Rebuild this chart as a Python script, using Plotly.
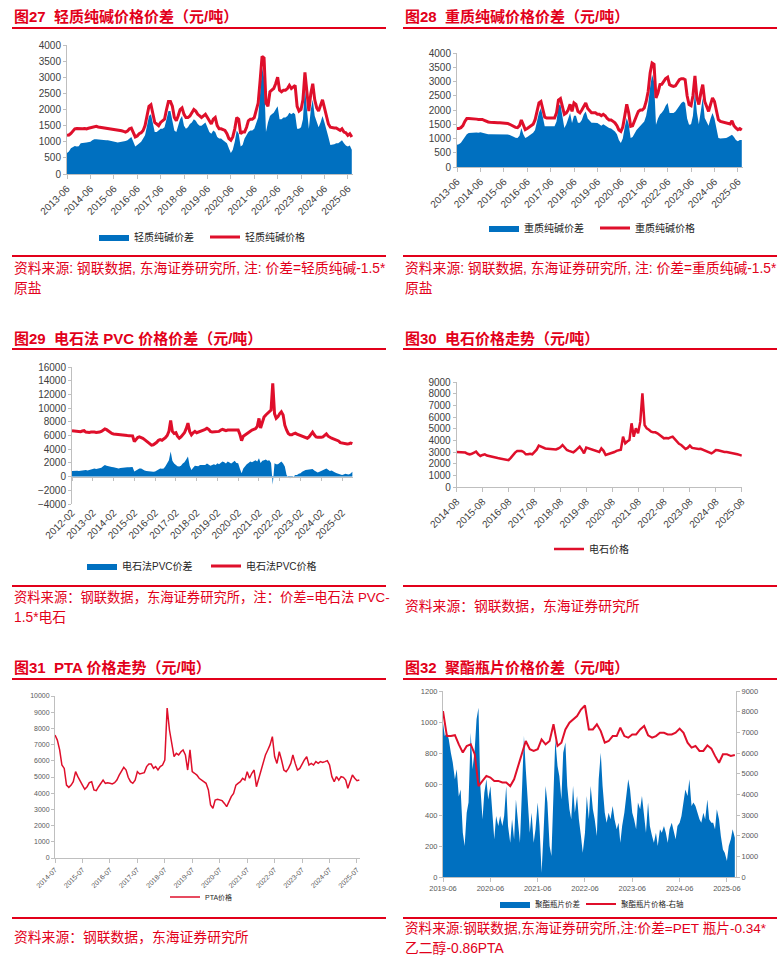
import pandas as pd
import plotly.graph_objects as go

W, H = 782, 960
RED = '#DF0F2B'
TXT_RED = '#E2001A'
BLUE = '#0070C0'
AX = '#BFBFBF'
FONT = 'Liberation Sans, Noto Sans CJK SC, sans-serif'

# ---------------- data ----------------
# 图27 light soda ash, monthly 2013-06 .. 2025-08
LIGHT_PRICE = [
    1200, 1210, 1260, 1350, 1400, 1410, 1400,
    1390, 1400, 1410, 1400, 1420, 1430, 1450, 1470, 1480, 1460, 1450, 1450,
    1440, 1440, 1430, 1420, 1400, 1390, 1380, 1370, 1360, 1340, 1320, 1300,
    1330, 1400, 1420, 1300, 1150, 1180, 1250, 1280, 1350, 1500, 1800, 2100,
    2150, 1900, 1600, 1550, 1500, 1600, 1650, 1700, 2000, 2250, 2250, 2100,
    1750, 1650, 1800, 2000, 2050, 1850, 1750, 1750, 1800, 1900, 2000, 1950,
    1850, 1800, 1750, 1800, 1850, 1750, 1650, 1550, 1700, 1750, 1500, 1400,
    1400, 1380, 1350, 1250, 1100, 1050, 1150, 1400, 1750, 1700, 1250, 1300,
    1300, 1450, 1650, 1700, 1700, 1750, 1950, 2200, 2900, 3650, 3600, 2200,
    2100, 2550, 2600, 2650, 2800, 3000, 2600, 2550, 2600, 2600, 2650, 2750,
    2650, 2700, 2750, 2100, 1950, 2000, 2300, 3150, 2600, 1950, 2500, 2800,
    2300, 2050, 1950, 2100, 2300, 2050, 1800, 1550, 1450, 1430, 1430, 1430,
    1400, 1350, 1400, 1300, 1280, 1200, 1250, 1150,
]
LIGHT_SPREAD = [
    650, 700, 800, 850, 870, 850, 860,
    950, 950, 970, 980, 1000, 1000, 1050, 1080, 1080, 1070, 1060, 1060,
    1060, 1050, 1050, 1030, 1020, 1000, 990, 980, 990, 1000, 1000, 1020,
    1050, 1100, 1150, 1000, 850, 900, 950, 1000, 1100, 1200, 1500, 1800,
    1850, 1500, 1300, 1300, 1350, 1400, 1400, 1450, 1700, 1950, 1950, 1600,
    1350, 1300, 1500, 1700, 1800, 1500, 1400, 1450, 1550, 1600, 1700, 1650,
    1550, 1500, 1500, 1550, 1600, 1450, 1300, 1250, 1350, 1300, 1150, 1100,
    1100, 1050, 1000, 950, 800, 650, 750, 1000, 1350, 1250, 850, 900,
    1100, 1200, 1300, 1350, 1350, 1400, 1550, 1750, 2500, 3300, 3000, 1300,
    1600, 1800, 1850, 1900, 2000, 2100, 1700, 1700, 1750, 1750, 1800, 1900,
    1850, 1900, 1850, 1400, 1400, 1450, 1700, 2700, 2000, 1400, 2000, 2300,
    1800, 1600, 1450, 1600, 1800, 1600, 1400, 1150, 900, 900, 920, 950,
    950, 1000, 1050, 950, 880, 850, 880, 750,
]

# 图28 heavy soda ash, monthly 2013-06 .. 2025-08
HEAVY_PRICE = [
    1350, 1350, 1380, 1450, 1600, 1700, 1700,
    1700, 1690, 1680, 1680, 1670, 1680, 1670, 1640, 1600, 1580, 1570, 1560,
    1560, 1550, 1550, 1550, 1550, 1550, 1540, 1530, 1500, 1460, 1420, 1390,
    1380, 1450, 1650, 1450, 1310, 1350, 1400, 1420, 1500, 1650, 2000, 2250,
    2300, 2000, 1750, 1720, 1720, 1720, 1720, 1720, 1900, 2350, 2400, 2100,
    1850, 1900, 2000, 2200, 1950, 2250, 2200, 1950, 1900, 2000, 2150, 2250,
    2050, 1950, 1900, 1900, 1900, 1850, 1850, 1800, 1850, 1800, 1700, 1650,
    1650, 1600, 1550, 1450, 1300, 1250, 1400, 1800, 2200, 1900, 1430, 1450,
    1600, 1800, 1950, 2000, 2000, 2070, 2300, 2650, 3300, 3650, 3600, 2420,
    2600, 2890, 2900, 3000, 3100, 3150, 2890, 2850, 2830, 2850, 2950, 3065,
    3100, 3100, 3065, 2500, 2190, 2150, 2500, 3200, 2420, 2190, 2600, 2890,
    2300, 2100, 1950, 2200, 2420, 2300, 2000, 1660, 1600, 1580, 1580, 1560,
    1530, 1510, 1625, 1450, 1370, 1310, 1350, 1300,
]
HEAVY_SPREAD = [
    780, 800, 850, 950, 1075, 1150, 1190,
    1200, 1200, 1210, 1210, 1200, 1215, 1200, 1180, 1160, 1150, 1150, 1150,
    1150, 1160, 1160, 1160, 1160, 1160, 1150, 1140, 1120, 1100, 1060, 1030,
    1020, 1100, 1370, 1150, 1020, 1050, 1100, 1150, 1200, 1300, 1600, 1900,
    2070, 1700, 1430, 1430, 1430, 1430, 1430, 1430, 1600, 2150, 2190, 1800,
    1370, 1500, 1700, 1895, 1545, 1800, 1800, 1550, 1550, 1650, 1850, 1950,
    1700, 1600, 1550, 1550, 1550, 1545, 1500, 1450, 1500, 1450, 1400, 1370,
    1350, 1300, 1250, 1150, 950, 840, 1000, 1400, 1720, 1500, 1020, 1050,
    1200, 1300, 1370, 1450, 1500, 1600, 1800, 2190, 2800, 3240, 3000, 1485,
    1700, 1840, 1900, 2000, 2150, 2245, 1895, 1900, 1895, 1950, 2050, 2190,
    2250, 2300, 2250, 1700, 1485, 1500, 1800, 2655, 1900, 1500, 2000, 2420,
    1720, 1600, 1450, 1700, 1895, 1700, 1400, 1020, 1000, 1000, 1000, 1020,
    1050, 1100, 1135, 1050, 950, 900, 950, 950,
]

# 图29 PVC (carbide route), monthly 2012-02 .. 2025-08
PVC_PRICE = [
    6700, 6650, 6600, 6550, 6500, 6550, 6650, 6700, 6500, 6450, 6450,
    6500, 6550, 6500, 6450, 6450, 6500, 6600, 6800, 6950, 6850, 6650, 6450,
    6300, 6230, 6200, 6150, 6100, 6050, 6000, 6000, 6000, 6000, 5980, 5950,
    5950, 5100, 5400, 5700, 5800, 5750, 5600, 5400, 5200, 5000, 4800, 4600,
    4650, 4800, 5000, 5300, 5400, 5300, 5450, 5700, 6000, 6600, 8200, 6600,
    6300, 6400, 5900, 5600, 5800, 6100, 6400, 7000, 7800, 6600, 6100, 6400,
    6600, 6400, 6500, 6700, 6800, 6800, 6900, 7050, 6900, 6600, 6500, 6500,
    6550, 6500, 6600, 6800, 6900, 6800, 6700, 6800, 6800, 6700, 6800, 6800,
    6750, 6800, 6200, 5250, 5900, 6100, 6300, 6500, 6700, 6800, 6900, 7000,
    7300, 8500, 7100, 8000, 8700, 9000, 9200, 9450, 9700, 13600, 9200, 8500,
    8750, 9200, 9450, 9000, 7500, 6800, 6300, 6100, 6100, 6250, 6350, 6200,
    6100, 6080, 5900, 5800, 5700, 5600, 5800, 6100, 6500, 6100, 5800, 5750,
    5700, 5740, 5800, 6000, 6230, 5900, 5700, 5600, 5500, 5400, 5300, 5200,
    4950, 4870, 4850, 4800, 4750, 4800, 4900, 4800,
]
PVC_SPREAD = [
    800, 850, 900, 850, 800, 850, 950, 970, 950, 900, 950,
    1000, 1100, 1200, 1100, 1150, 1200, 1300, 1500, 1700, 1600, 1500, 1400,
    1400, 1360, 1300, 1250, 1200, 1250, 1300, 1350, 1350, 1350, 1350, 1360,
    1400, 730, 900, 1100, 1200, 1200, 1000, 900, 800, 750, 700, 650,
    700, 730, 900, 1100, 1200, 1150, 1200, 1500, 1900, 2400, 3650, 2300,
    1900, 1700, 1500, 1460, 1600, 1900, 2100, 2500, 2920, 1600, 970, 1300,
    1600, 1560, 1500, 1700, 1700, 1800, 1700, 1900, 1700, 1600, 1700, 1800,
    1700, 1950, 1800, 2000, 2200, 2100, 1900, 2200, 2000, 1900, 2100, 2300,
    2000, 1950, 1200, 490, 1200, 1600, 1800, 2000, 2200, 2100, 2300, 2400,
    2200, 2680, 2000, 2300, 2400, 2500, 2300, 2400, 2000, -1200, 1950, 1800,
    1800, 2000, 2190, 1900, 1460, 240, -100, -250, -150, 0, 240, 240,
    400, 490, 700, 900, 970, 1000, 1050, 1000, 1100, 900, 700, 600,
    700, 800, 900, 1100, 1200, 1000, 800, 900, 700, 600, 500, 400,
    300, 240, 300, 400, 350, 300, 450, 700,
]

# 图30 calcium carbide, monthly 2014-08 .. 2025-08
CARBIDE_PRICE = [
    3000, 3000, 3000, 3000, 2950,
    2850, 2800, 2850, 2950, 3030, 2800, 2660, 2750, 2800, 2700, 2650, 2600,
    2510, 2500, 2480, 2450, 2420, 2400, 2380, 2300, 2500, 2740, 2950, 3085,
    3100, 3085, 3000, 2800, 2800, 2850, 2800, 2970, 3200, 3540, 3450, 3370,
    3300, 3280, 3260, 3250, 3250, 3220, 3300, 3400, 3600, 3400, 3170, 3100,
    3000, 2970, 3100, 3300, 3460, 3200, 2890, 3370, 3300, 3250, 3170, 3100,
    3050, 3000, 3310, 3100, 2740, 2800, 2850, 2890, 3000, 3100, 3170, 3200,
    4310, 3740, 3900, 4030, 5460, 4310, 5030, 4600, 5600, 8030, 5310, 5030,
    4900, 4740, 4700, 4690, 4600, 4460, 4300, 4170, 4200, 4170, 4250, 4310,
    4100, 3890, 3700, 3600, 3400, 3260, 3350, 3550, 3350, 3300, 3280, 3260,
    3280, 3200, 3170, 3100, 3000, 2890, 3000, 3170, 3150, 3100, 3030, 3000,
    3000, 2970, 2950, 2900, 2830, 2800, 2750, 2690,
]

# 图31 PTA, monthly 2014-07 .. 2025-08
PTA_PRICE = [
    7590, 7280, 6670, 5740, 5530, 4500,
    4360, 4500, 4710, 5330, 5020, 4710, 4500, 4240, 4400, 4650, 4710, 4200,
    4160, 4400, 4610, 4810, 4610, 4650, 4610, 4570, 4650, 4810, 5120, 5330,
    5600, 5430, 4980, 4710, 4610, 4810, 5330, 5190, 5230, 5270, 5640, 5800,
    5800, 5530, 5640, 5430, 5640, 5740, 6050, 9250, 7900, 7080, 6260, 6460,
    6360, 6560, 6670, 6360, 5430, 6670, 5330, 5230, 5120, 4920, 4810, 4710,
    4610, 4200, 3270, 3070, 3580, 3620, 3580, 3540, 3370, 3170, 3480, 3790,
    3990, 4500, 4610, 4710, 4920, 4810, 5330, 4920, 5230, 5430, 4400, 4920,
    5430, 6050, 6360, 6670, 6980, 7490, 6260, 5840, 6560, 6050, 5430, 5330,
    5530, 5840, 6360, 5840, 5430, 5530, 5840, 6050, 6260, 5740, 5840, 5740,
    5950, 5840, 5950, 5900, 5950, 6010, 5740, 5020, 4710, 5020, 4810, 5020,
    4980, 4810, 4300, 4710, 5120, 4920, 4770, 4810,
]

# 图32 PET bottle chips: price monthly 2019-06 .. 2025-08 (right axis)
PET_PRICE = [
    8030, 6820, 6820, 6860, 6420, 6020, 6340,
    6420, 5940, 4400, 4650, 4890, 4810, 4650, 4650, 4570, 4570, 4400, 4730,
    5370, 6020, 6580, 6180, 6100, 6180, 6660, 6420, 6580, 7390, 6340, 6500,
    7140, 7470, 7630, 7790, 8100, 8300, 7140, 7140, 7390, 7060, 6500, 6580,
    6820, 6820, 7230, 6820, 6740, 6900, 6900, 7140, 7310, 6860, 6740, 6820,
    6980, 6980, 6900, 6900, 6980, 7180, 6980, 6500, 6260, 6340, 6100, 6100,
    6370, 6210, 5860, 5530, 5940, 5940, 5860, 5900,
]
# spread, semi-monthly 2019-06 .. 2025-08 (left axis)
PET_SPREAD = [
    995, 910, 930, 890, 800, 740, 630, 695, 520, 565,
    286, 200, 415, 480, 930, 695, 825, 1017, 1092, 587,
    372, 544, 630, 500, 587, 415, 243, 393, 329, 393,
    329, 393, 587, 329, 221, 372, 243, 500, 329, 221,
    587, 910, 695, 480, 286, 415, 221, 308, 480, 329,
    28, 265, 587, 480, 200, 135, 480, 888, 716, 652,
    500, 802, 867, 587, 437, 372, 587, 415, 522, 372,
    265, 157, 286, 522, 372, 587, 437, 372, 265, 630,
    802, 587, 415, 350, 415, 372, 458, 372, 308, 350,
    221, 329, 415, 522, 630, 565, 415, 372, 308, 480,
    437, 522, 372, 286, 480, 329, 265, 221, 286, 200,
    308, 286, 329, 286, 221, 308, 350, 308, 243, 329,
    350, 393, 480, 565, 522, 630, 458, 480, 458, 415,
    372, 350, 415, 372, 500, 372, 350, 350, 308, 437,
    372, 265, 178, 157, 103, 200, 243, 308, 254,
]

light_dates = pd.date_range('2013-06-01', periods=len(LIGHT_PRICE), freq='MS')
heavy_dates = pd.date_range('2013-06-01', periods=len(HEAVY_PRICE), freq='MS')
pvc_dates = pd.date_range('2012-02-01', periods=len(PVC_PRICE), freq='MS')
carbide_dates = pd.date_range('2014-08-01', periods=len(CARBIDE_PRICE), freq='MS')
pta_dates = pd.date_range('2014-07-01', periods=len(PTA_PRICE), freq='MS')
pet_dates = pd.date_range('2019-06-01', periods=len(PET_PRICE), freq='MS')
pet_spread_dates = pd.date_range('2019-06-01', periods=len(PET_SPREAD), freq='SMS')


def X(p):
    return p / W


def Y(p):
    return 1 - p / H


fig = go.Figure()


def area(x, y, name, xa, ya, leg):
    fig.add_trace(go.Scatter(x=x, y=y, mode='lines', fill='tozeroy', fillcolor=BLUE,
                             line=dict(width=0, color=BLUE), name=name, showlegend=True,
                             xaxis=xa, yaxis=ya, legend=leg, hoverinfo='skip'))


def line(x, y, name, xa, ya, leg, w):
    fig.add_trace(go.Scatter(x=x, y=y, mode='lines', line=dict(width=w, color=RED),
                             name=name, showlegend=True, xaxis=xa, yaxis=ya, legend=leg,
                             hoverinfo='skip'))


area(light_dates, LIGHT_SPREAD, '轻质纯碱价差', 'x', 'y', 'legend')
line(light_dates, LIGHT_PRICE, '轻质纯碱价格', 'x', 'y', 'legend2', 3)
area(heavy_dates, HEAVY_SPREAD, '重质纯碱价差', 'x2', 'y2', 'legend3')
line(heavy_dates, HEAVY_PRICE, '重质纯碱价格', 'x2', 'y2', 'legend4', 3)
area(pvc_dates, PVC_SPREAD, '电石法PVC价差', 'x7', 'y3', 'legend5')
line(pvc_dates, PVC_PRICE, '电石法PVC价格', 'x3', 'y3', 'legend6', 3)
line(carbide_dates, CARBIDE_PRICE, '电石价格', 'x4', 'y4', 'legend7', 2.5)
line(pta_dates, PTA_PRICE, 'PTA价格', 'x5', 'y5', 'legend8', 1.5)
area(pet_spread_dates, PET_SPREAD, '聚酯瓶片价差', 'x6', 'y6', 'legend9')
line(pet_dates, PET_PRICE, '聚酯瓶片价格-右轴', 'x6', 'y7', 'legend10', 2)


def xax(l, r, rng, tick0, angle, size, anchor, color='#404040', showline=True, ticks=True,
        labels=True):
    return dict(domain=[X(l), X(r)], range=rng, type='date', tick0=tick0, dtick='M12',
                tickformat='%Y-%m', tickangle=angle,
                tickfont=dict(size=size, color=color, family=FONT),
                showline=showline, linecolor=AX, linewidth=1,
                ticks='outside' if ticks else '', ticklen=4, tickcolor=AX,
                showticklabels=labels, showgrid=False, zeroline=False, anchor=anchor,
                fixedrange=True)


def yax(t, b, rng, dtick, size, anchor, color='#404040', side='left'):
    return dict(domain=[Y(b), Y(t)], range=rng, dtick=dtick, tick0=0, tickformat='d',
                tickfont=dict(size=size, color=color, family=FONT),
                showline=True, linecolor=AX, linewidth=1, ticks='outside', ticklen=3,
                tickcolor=AX, showgrid=False, zeroline=False, anchor=anchor, side=side,
                fixedrange=True)


# panel 3 zero line position
p3_top, p3_bot = 367, 504
p3_zero = p3_bot - (p3_bot - p3_top) * 4000 / 20000

layout = dict(
    width=W, height=H, margin=dict(l=0, r=0, t=0, b=0, autoexpand=False),
    paper_bgcolor='white', plot_bgcolor='white', showlegend=True,
    font=dict(family=FONT),
    xaxis=xax(67, 353, ['2013-06-01', '2025-08-20'], '2013-06-01', -45, 10, 'y'),
    yaxis=yax(45, 174, [0, 4000], 500, 10, 'x'),
    xaxis2=xax(457, 743, ['2013-06-01', '2025-08-20'], '2013-06-01', -45, 10, 'y2'),
    yaxis2=yax(53, 167, [0, 4000], 500, 10, 'x2'),
    xaxis3=xax(72, 353, ['2012-02-01', '2025-08-12'], '2012-02-01', -45, 10, 'y3',
               showline=False, ticks=False),
    xaxis7=dict(overlaying='x3', anchor='free', position=Y(p3_zero),
                range=['2012-02-01', '2025-08-12'], type='date', tick0='2012-02-01',
                dtick='M12', showline=True, linecolor=AX, linewidth=1, ticks='outside',
                ticklen=3, tickcolor=AX, showticklabels=False, showgrid=False,
                zeroline=False, fixedrange=True),
    yaxis3=yax(p3_top, p3_bot, [-4000, 16000], 2000, 10, 'x3'),
    xaxis4=xax(456.7, 742, ['2014-08-01', '2025-08-05'], '2014-08-01', -45, 10, 'y4'),
    yaxis4=yax(382, 487, [0, 9000], 1000, 10, 'x4'),
    xaxis5=xax(55, 360, ['2014-07-01', '2025-08-10'], '2014-07-01', -45, 7, 'y5',
               color='#595959'),
    yaxis5=yax(696, 858, [0, 10000], 1000, 7, 'x5', color='#595959'),
    xaxis6=xax(443, 736, ['2019-06-01', '2025-08-10'], '2019-06-01', 0, 7.5, 'y6',
               color='#595959'),
    yaxis6=yax(691, 877, [0, 1200], 200, 7.5, 'x6', color='#595959'),
    yaxis7=dict(overlaying='y6', side='right', anchor='x6', range=[0, 9000], dtick=1000,
                tick0=0, tickformat='d', tickfont=dict(size=7.5, color='#595959', family=FONT),
                showline=True, linecolor=AX, linewidth=1, ticks='outside', ticklen=3,
                tickcolor=AX, showgrid=False, zeroline=False, fixedrange=True),
)


def leg(xs, yc, size):
    return dict(x=X(xs - 5), y=Y(yc), xanchor='left', yanchor='middle',
                bgcolor='rgba(0,0,0,0)', borderwidth=0, itemwidth=30,
                font=dict(size=size, color='#262626', family=FONT), orientation='h')


layout['legend'] = leg(99, 237, 10)
layout['legend2'] = leg(210, 237, 10)
layout['legend3'] = leg(489, 228, 10)
layout['legend4'] = leg(600, 228, 10)
layout['legend5'] = leg(87, 566, 10)
layout['legend6'] = leg(211, 566, 10)
layout['legend7'] = leg(554, 549, 10)
layout['legend8'] = leg(170, 897, 7)
layout['legend9'] = leg(500, 904, 7.5)
layout['legend10'] = leg(586, 904, 7.5)

fig.update_layout(**layout)

# titles, rules and captions
TITLES = [
    (12, 16, '图27  轻质纯碱价格价差（元/吨）'),
    (403, 16, '图28  重质纯碱价格价差（元/吨）'),
    (12, 338, '图29  电石法 PVC 价格价差（元/吨）'),
    (403, 338, '图30  电石价格走势（元/吨）'),
    (12, 667, '图31  PTA 价格走势（元/吨）'),
    (403, 667, '图32  聚酯瓶片价格价差（元/吨）'),
]
CAPTIONS = [
    (12, 268, '资料来源: 钢联数据, 东海证券研究所, 注: 价差=轻质纯碱-1.5*', 13.8),
    (12, 288, '原盐', 13.8),
    (403, 268, '资料来源: 钢联数据, 东海证券研究所, 注: 价差=重质纯碱-1.5*', 13.8),
    (403, 288, '原盐', 13.8),
    (12, 597, '资料来源：钢联数据，东海证券研究所，注：价差=电石法 PVC-', 13.3),
    (12, 617, '1.5*电石', 13.8),
    (403, 606, '资料来源：钢联数据，东海证券研究所', 13.8),
    (12, 937, '资料来源：钢联数据，东海证券研究所', 13.8),
    (403, 928, '资料来源:钢联数据,东海证券研究所,注:价差=PET 瓶片-0.34*', 13.6),
    (403, 948, '乙二醇-0.86PTA', 13.8),
]
RULES = [(12, 386, 28), (403, 777, 28), (12, 386, 256), (403, 777, 256),
         (12, 386, 349), (403, 777, 349), (12, 386, 586), (403, 777, 586),
         (12, 386, 679), (403, 777, 679), (12, 386, 918), (403, 777, 918)]

for x0, yc, txt in TITLES:
    fig.add_annotation(x=X(x0), y=Y(yc), xref='paper', yref='paper', text='<b>' + txt + '</b>',
                       showarrow=False, xanchor='left', yanchor='middle',
                       font=dict(size=15, color=TXT_RED, family=FONT))
for x0, yc, txt, fs in CAPTIONS:
    fig.add_annotation(x=X(x0), y=Y(yc), xref='paper', yref='paper', text=txt,
                       showarrow=False, xanchor='left', yanchor='middle',
                       font=dict(size=fs, color=TXT_RED, family=FONT))
for x0, x1, yy in RULES:
    fig.add_shape(type='line', xref='paper', yref='paper', x0=X(x0), x1=X(x1),
                  y0=Y(yy), y1=Y(yy), line=dict(color=TXT_RED, width=2))

fig.write_html('out.html', config={'displayModeBar': False},
               post_script="document.body.style.margin='0';document.body.style.padding='0';")
